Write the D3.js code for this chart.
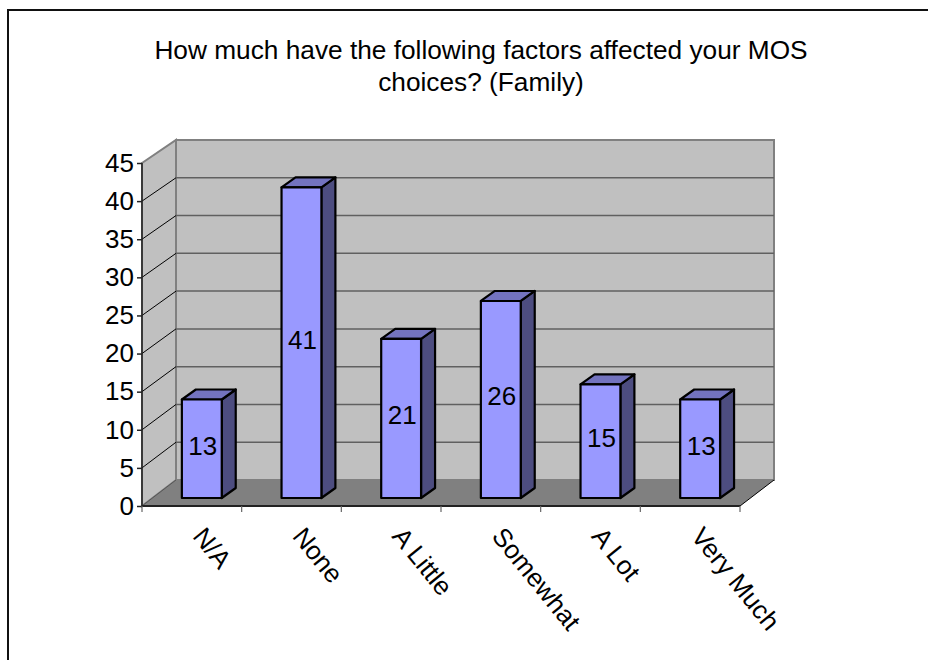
<!DOCTYPE html>
<html><head><meta charset="utf-8">
<script src="https://cdnjs.cloudflare.com/ajax/libs/d3/7.8.5/d3.min.js"></script>
<style>html,body{margin:0;padding:0;background:#fff}svg{display:block}text{font-family:"Liberation Sans",Arial,sans-serif;fill:#000}</style>
</head><body><svg id="c" width="928" height="660"></svg>
<script>
const categories = ["N/A","None","A Little","Somewhat","A Lot","Very Much"];
const values = [13,41,21,26,15,13];
const yTicks = [0,5,10,15,20,25,30,35,40,45];
const titleLines = ["How much have the following factors affected your MOS","choices? (Family)"];

const svg = d3.select("#c");
const W=928,H=660,FS="26px";
svg.append("path").attr("d",`M8,${H}V10H${W}`).attr("fill","none").attr("stroke","#111").attr("stroke-width",2);

const x = d3.scaleBand().domain(categories).range([142,740]).paddingInner(0).paddingOuter(0);
const yFront = d3.scaleLinear().domain([0,45]).range([506,163]);
const yBack = d3.scaleLinear().domain([0,45]).range([480,140]);
const yBar = d3.scaleLinear().domain([0,45]).range([498,157]);
const barDx = 14, barDy = 10;
const g = svg.append("g");
const poly = (pts,fill,stroke,sw)=>g.append("polygon").attr("points",pts.map(p=>p.join(",")).join(" ")).attr("fill",fill).attr("stroke",stroke||"none").attr("stroke-width",sw||0);

poly([[176,yBack(45)],[774,yBack(45)],[774,yBack(0)],[176,yBack(0)]],"#c0c0c0","#808080",2);
poly([[142,yFront(45)],[176,yBack(45)],[176,yBack(0)],[142,yFront(0)]],"#c0c0c0","#808080",2);
poly([[142,yFront(0)],[176,yBack(0)],[774,yBack(0)],[740,yFront(0)]],"#808080");

yTicks.filter(t=>t>0&&t<45).forEach(t=>{
  g.append("line").attr("x1",176).attr("x2",774).attr("y1",yBack(t)).attr("y2",yBack(t)).attr("stroke","#606060").attr("stroke-width",1.5);
  g.append("line").attr("x1",142).attr("x2",176).attr("y1",yFront(t)).attr("y2",yBack(t)).attr("stroke","#000").attr("stroke-width",1);
});
g.append("line").attr("x1",740).attr("x2",774).attr("y1",yFront(0)).attr("y2",yBack(0)).attr("stroke","#000").attr("stroke-width",1);
g.append("line").attr("x1",142).attr("x2",176).attr("y1",yFront(0)).attr("y2",yBack(0)).attr("stroke","#555").attr("stroke-width",1);

const ya = d3.axisLeft(yFront).tickValues(yTicks).tickSize(5).tickPadding(3);
const yg = svg.append("g").attr("transform","translate(142,0)").call(ya);
yg.select(".domain").attr("stroke","#222").attr("stroke-width",1.5).attr("d",`M0,${yFront(45)}V${yFront(0)}`);
yg.selectAll(".tick line").attr("stroke","#222").attr("stroke-width",1.5);
yg.selectAll("text").style("font-family",'"Liberation Sans"').style("font-size",FS).attr("fill","#000");

const edges = categories.map(c=>x(c)).concat([740]);
const xg = svg.append("g");
xg.append("line").attr("x1",142).attr("x2",740).attr("y1",yFront(0)).attr("y2",yFront(0)).attr("stroke","#222").attr("stroke-width",2);
xg.selectAll("line.t").data(edges).join("line").attr("class","t").attr("x1",d=>d).attr("x2",d=>d).attr("y1",yFront(0)).attr("y2",yFront(0)+6).attr("stroke","#666").attr("stroke-width",1.2);

const bw = x.bandwidth()*0.4;
const bars = svg.append("g").selectAll("g").data(categories.map((c,i)=>({c,v:values[i]}))).join("g");
const L = d=>x(d.c)+x.bandwidth()*0.4, R=d=>L(d)+bw;
function face(fill,f){
  bars.append("polygon").attr("fill",fill).attr("points",f).attr("stroke","#000").attr("stroke-width",2.2).attr("stroke-linejoin","round");
}
face("#4d4d80",d=>{const t=yBar(d.v),b=yBar(0);return [[R(d),t],[R(d)+barDx,t-barDy],[R(d)+barDx,b-barDy],[R(d),b]].join(" ");});
face("#7373bf",d=>{const t=yBar(d.v);return [[L(d),t],[L(d)+barDx,t-barDy],[R(d)+barDx,t-barDy],[R(d),t]].join(" ");});
face("#9999ff",d=>{const t=yBar(d.v),b=yBar(0);return [[L(d),t],[R(d),t],[R(d),b],[L(d),b]].join(" ");});
bars.append("text").attr("x",d=>L(d)+bw/2+1).attr("y",d=>(yBar(d.v)+yBar(0))/2+6).attr("text-anchor","middle").style("font-size",FS).text(d=>d.v);

svg.append("g").selectAll("text").data(categories).join("text")
  .attr("transform",d=>`translate(${x(d)+x.bandwidth()/2+7},${531}) rotate(51)`)
  .attr("dy","0.35em").style("font-size",FS).text(d=>d);

svg.append("g").selectAll("text").data(titleLines).join("text").attr("x",481).attr("y",(d,i)=>59+i*32).attr("text-anchor","middle").style("font-size","26.25px").text(d=>d);
</script></body></html>
